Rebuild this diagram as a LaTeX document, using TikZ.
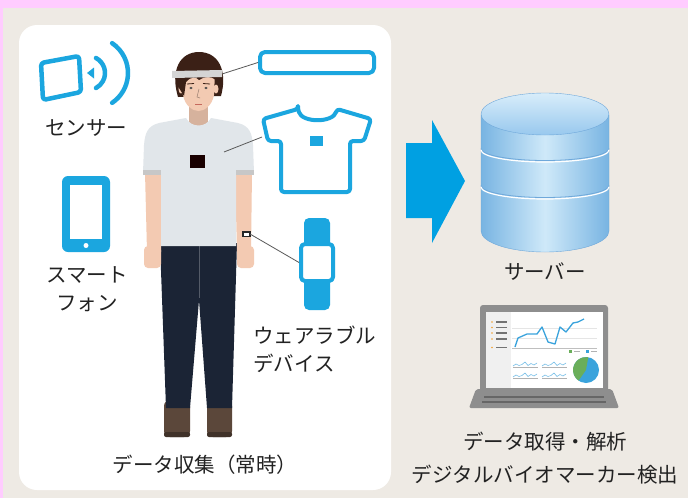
\documentclass[tikz,border=0pt]{standalone}
\usepackage{fontspec}
\setmainfont{Noto Sans CJK JP}

\definecolor{pinkband}{HTML}{FFCCFF}
\definecolor{paper}{HTML}{EEEAE4}
\definecolor{icon}{HTML}{1BA6DF}
\definecolor{arrowblue}{HTML}{00A0E2}
\definecolor{ink}{HTML}{222222}
\definecolor{skin}{HTML}{F3CAB2}
\definecolor{hair}{HTML}{3B2016}
\definecolor{tee}{HTML}{E1E6EA}
\definecolor{navy}{HTML}{1B2435}
\definecolor{boot}{HTML}{5B473A}
\definecolor{dbdark}{HTML}{78B4E2}
\definecolor{dblight}{HTML}{CFE9F9}
\definecolor{dbtop}{HTML}{D8EDFA}
\definecolor{dbmid}{HTML}{98C8EE}
\definecolor{dbedge}{HTML}{6FA8DA}
\definecolor{lapgrey}{HTML}{8E8E8E}
\definecolor{chartblue}{HTML}{3AA3DC}
\definecolor{chartgreen}{HTML}{6AAE5A}
\definecolor{dotorange}{HTML}{F0A030}

\begin{document}
\begin{tikzpicture}[x=1pt,y=-1pt]

\tikzset{txt/.style = {font=\fontsize{20.5}{28}\selectfont, text=ink, align=center, inner sep=0}}
\tikzset{icon/.style = {draw=icon, line width=4pt, line join=round}}
\tikzset{solid icon/.style = {fill=icon}}
\tikzset{lead/.style = {draw=black!65, line width=0.8pt}}

% background
\fill[paper] (0,0) rectangle (688,498);
\fill[pinkband] (0,0) rectangle (688,8);
\fill[pinkband] (0,0) rectangle (2.5,498);
\useasboundingbox (0,0) rectangle (688,498);
\fill[white, rounded corners=18pt] (19,25) rectangle (391,490);

% sensor
\draw[icon, line width=4.5pt, rounded corners=3pt] (41,63) -- (79,56) -- (81,92) -- (43,100) -- cycle;
\fill[solid icon] (87,73) -- (94,67.5) -- (94,78.5) -- cycle;
\draw[icon, line width=4.5pt, line cap=round] (88,73) ++(-62:17) arc[start angle=-62, end angle=62, radius=17];
\draw[icon, line width=4.5pt, line cap=round] (92,73) ++(-56:36) arc[start angle=-56, end angle=56, radius=36];
\node[txt] (sensor) at (86,128) {センサー};

% smartphone
\fill[solid icon, rounded corners=6pt] (62,176) rectangle (110,252);
\fill[white] (70,185) rectangle (102,239);
\fill[white] (86,245.5) circle (2.5);
\node[txt] (phone) at (87,289) {スマート\\フォン};

% person
\fill[boot, rounded corners=6pt] (164,400) rectangle (190,437);
\fill[boot, rounded corners=6pt] (207,400) rectangle (232,437);
\fill[boot!70!black, rounded corners=2pt] (164,432) rectangle (190,437);
\fill[boot!70!black, rounded corners=2pt] (207,432) rectangle (232,437);
\fill[navy] (160,243) -- (237,243) -- (232,408) -- (207,408) -- (199,300) -- (190,408) -- (166,408) -- cycle;
\draw[navy!75!white, line width=0.5pt] (199,246) -- (199,298);
\fill[skin] (145,172) -- (162,172) -- (161,252) -- (147,252) -- cycle;
\fill[skin] (235,172) -- (252,172) -- (251,252) -- (237,252) -- cycle;
\fill[skin, rounded corners=4pt] (144,246) rectangle (161,268);
\fill[skin, rounded corners=4pt] (237,246) rectangle (254,268);
\fill[skin!88!black] (189,104) rectangle (208,126);
\fill[tee] (186,118) .. controls (191,128) and (206,128) .. (211,118) -- (238,123)
  .. controls (250,126) and (252,134) .. (253,145) -- (254,173) -- (236,173) -- (236,246)
  -- (161,246) -- (161,173) -- (143,173) -- (144,145)
  .. controls (145,134) and (147,126) .. (159,123) -- cycle;
\fill[black!22] (143,170) rectangle (161,175);
\fill[black!22] (236,170) rectangle (254,175);
\fill[black!90!red] (190,155) rectangle (205,168);
\fill[black!85] (242,231) rectangle (251,237);
\fill[white] (244,232.5) rectangle (249,235.5);
% head
\fill[hair] (178,97) .. controls (170,70) and (180,52) .. (199,52) .. controls (218,52) and (228,70) .. (221,96) -- cycle;
\fill[skin] (181,89) ellipse (2.5 and 4.5);
\fill[skin] (216,89) ellipse (2.5 and 4.5);
\fill[skin] (182,72) -- (215,72) -- (214,95) .. controls (212,106) and (204,111) .. (198.5,111)
  .. controls (193,111) and (185,106) .. (183,95) -- cycle;
\fill[hair] (179,88) .. controls (177,64) and (188,57) .. (199,57) .. controls (210,57) and (221,64) .. (219,86)
  -- (216,80) .. controls (211,76) and (205,76) .. (199,80) .. controls (196,76) and (190,77) .. (186,82) -- (184,96) -- cycle;
\fill[black!17] (172,71) -- (222,70) -- (222,77) -- (172,78) -- cycle;
\fill[black!70] (191,88) ellipse (1.6 and 1.2);
\fill[black!70] (206,88) ellipse (1.6 and 1.2);
\draw[hair, line width=0.8pt] (187,84) -- (194,83.5);
\draw[hair, line width=0.8pt] (203,83.5) -- (210,84);
\draw[skin!65!black, line width=0.6pt] (199,89) -- (197,97) -- (200,98);
\draw[red!35!skin!80!black, line width=1pt] (195,104) -- (202,104);
\node[txt] (collect) at (205,465) {データ収集（常時）};

% headband
\node[icon, fill=white, rounded corners=5pt, minimum width=114pt, minimum height=21pt, inner sep=0pt] (bar) at (317,62.5) {};

% t-shirt
\draw[icon, fill=white, rounded corners=3pt] (298,109) -- (263,119) -- (268,141) -- (281,141) -- (281,192)
  -- (350,192) -- (350,141) -- (364,141) -- (371,119) -- (337,109)
  .. controls (333,123) and (302,123) .. (298,109) -- cycle;
\fill[solid icon] (310,136) rectangle (323,146);
\coordinate (teept) at (262,137);

% watch
\fill[solid icon, rounded corners=5pt] (304,218) rectangle (330,310);
\node[icon, fill=white, rounded corners=4pt, minimum width=32pt, minimum height=37pt, inner sep=0pt] (watch) at (317,262.5) {};
\node[txt, align=left, anchor=west] (wear) at (253,349) {ウェアラブル\\デバイス};

% leads
\coordinate (bandpt) at (222,74);
\coordinate (chestpt) at (224,152);
\coordinate (wristpt) at (250,234);
\draw[lead] (bandpt) -- (bar.west);
\draw[lead] (chestpt) -- (teept);
\draw[lead] (wristpt) -- (watch.west);

% arrow
\fill[arrowblue] (406,143) -- (432,143) -- (432,120) -- (465,181) -- (432,243) -- (432,218) -- (406,218) -- cycle;

% server
\path[left color=dbdark, right color=dbdark, middle color=dblight, draw=dbedge, line width=0.4pt]
  (481,115) -- (481,231) arc[start angle=180, end angle=0, x radius=64, y radius=21] -- (609,115) -- cycle;
\foreach \h in {150,187} {
  \draw[dbedge, line width=0.8pt] (481,\h-1.5) arc[start angle=180, end angle=0, x radius=64, y radius=12];
  \draw[white, line width=1.2pt] (481,\h) arc[start angle=180, end angle=0, x radius=64, y radius=12];
}
\path[top color=dbtop, bottom color=dbmid, draw=dbedge, line width=0.4pt] (545,114) ellipse[x radius=64, y radius=21];
\node[txt] (server) at (545,272) {サーバー};

% laptop
\fill[lapgrey, rounded corners=3pt] (480,305) rectangle (608,394);
\fill[white] (486,312) rectangle (603,388);
\fill[black!6] (486,312) rectangle (511,388);
\foreach \r in {322,327.5,333,339,347.5} {
  \fill[dotorange] (492,\r) circle (0.8);
  \draw[black!55, line width=1.1pt] (496,\r) -- (507,\r);
}
\draw[black!10, line width=0.4pt] (512,328) -- (597,328);
\draw[black!10, line width=0.4pt] (512,338) -- (597,338);
\draw[black!25, line width=0.5pt] (512,348) -- (597,348);
\draw[chartblue, line width=1.3pt, line join=round] plot coordinates {(515,347) (518,338) (527,334) (537,334) (542,327) (548,342) (555,344) (560,327) (566,332) (573,323) (578,322) (584,319)};
\fill[chartgreen] (569,350) rectangle (572,353);
\draw[black!30, line width=0.6pt] (574,351.5) -- (580,351.5);
\fill[chartblue] (586,350) rectangle (589,353);
\draw[black!30, line width=0.6pt] (591,351.5) -- (597,351.5);
\foreach \sx/\sy in {513/367, 542/367, 513/378, 542/378} {
  \draw[black!30, line width=0.4pt] (\sx,\sy) -- (\sx+25,\sy);
  \draw[chartblue!70, line width=0.6pt, shift={(\sx,\sy)}] plot coordinates {(0,-1) (3,-3) (6,-1.5) (9,-2.5) (12,-5) (15,-1.5) (18,-3.5) (21,-2) (24,-4)};
}
\fill[chartblue] (586,370) circle (13);
\fill[chartgreen] (586,370) -- ++(-80:13) arc[start angle=-80, end angle=-235, radius=13] -- cycle;
\fill[lapgrey, rounded corners=2pt] (476,389) -- (612,389) -- (619,408) -- (469,408) -- cycle;
\draw[black!60, line width=1.3pt] (484,397) -- (604,397);
\draw[black!60, line width=1.3pt] (482,402) -- (606,402);
\node[txt, font=\fontsize{20.5}{33}\selectfont] (analysis) at (545,458) {データ取得・解析\\デジタルバイオマーカー検出};

\end{tikzpicture}
\end{document}
